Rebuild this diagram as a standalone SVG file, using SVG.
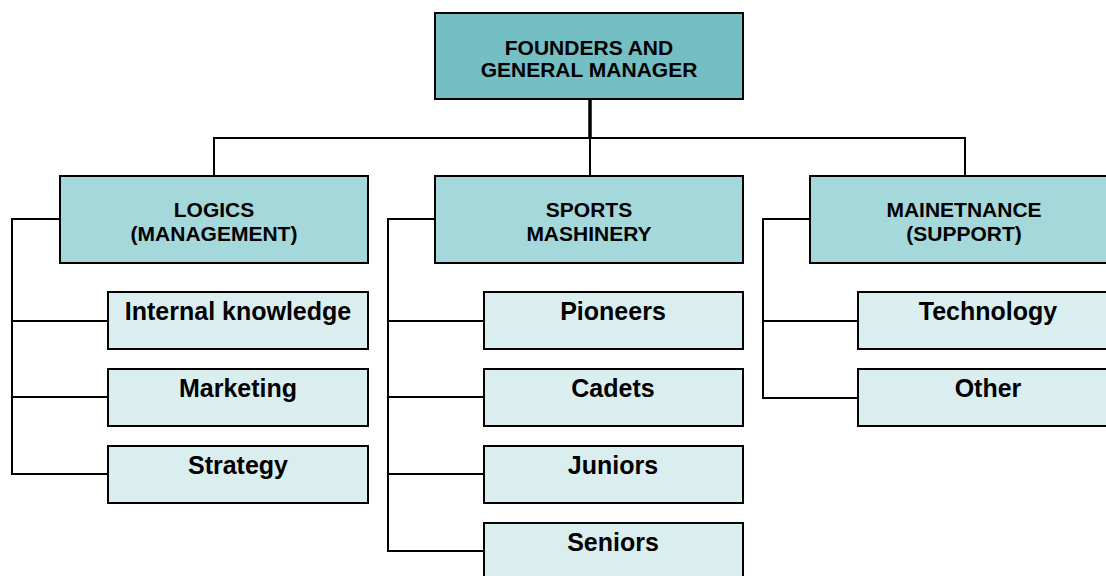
<svg xmlns="http://www.w3.org/2000/svg" width="1106" height="576" viewBox="0 0 1106 576">
<style>
.b1{fill:#73bfc4;stroke:#000;stroke-width:2}
.b2{fill:#a5d8da;stroke:#000;stroke-width:2}
.b3{fill:#daeef0;stroke:#000;stroke-width:2}
.t{font-family:"Liberation Sans",Arial,sans-serif;font-weight:bold;fill:#000;text-anchor:middle}
.s{font-size:21px}
.l{font-size:25px}
.c{fill:none;stroke:#000;stroke-width:2}
</style>
<rect width="1106" height="576" fill="#fff"/>
<g id="connectors">
<path class="c" d="M590 99V138" style="stroke-width:3.5"/>
<path class="c" d="M214 177V138H965V177M590 138V177"/>
<path class="c" d="M60 219H12V474H108M12 321H108M12 397H108"/>
<path class="c" d="M435 219H388V551H484M388 321H484M388 397H484M388 474H484"/>
<path class="c" d="M810 219H763V398H858M763 321H858"/>
</g>
<g id="founders"><rect class="b1" x="435" y="13" width="308" height="86"/><text class="t s" x="589" y="55">FOUNDERS AND</text><text class="t s" x="589" y="77">GENERAL MANAGER</text></g>
<g id="logics"><rect class="b2" x="60" y="176" width="308" height="87"/><text class="t s" x="214" y="217">LOGICS</text><text class="t s" x="214" y="241">(MANAGEMENT)</text></g>
<g id="sports"><rect class="b2" x="435" y="176" width="308" height="87"/><text class="t s" x="589" y="217">SPORTS</text><text class="t s" x="589" y="241">MASHINERY</text></g>
<g id="maintenance"><rect class="b2" x="810" y="176" width="308" height="87"/><text class="t s" x="964" y="217">MAINETNANCE</text><text class="t s" x="964" y="241">(SUPPORT)</text></g>
<g id="internal"><rect class="b3" x="108" y="292" width="260" height="57"/><text class="t l" x="238" y="320">Internal knowledge</text></g>
<g id="marketing"><rect class="b3" x="108" y="369" width="260" height="57"/><text class="t l" x="238" y="397">Marketing</text></g>
<g id="strategy"><rect class="b3" x="108" y="446" width="260" height="57"/><text class="t l" x="238" y="474">Strategy</text></g>
<g id="pioneers"><rect class="b3" x="484" y="292" width="259" height="57"/><text class="t l" x="613" y="320">Pioneers</text></g>
<g id="cadets"><rect class="b3" x="484" y="369" width="259" height="57"/><text class="t l" x="613" y="397">Cadets</text></g>
<g id="juniors"><rect class="b3" x="484" y="446" width="259" height="57"/><text class="t l" x="613" y="474">Juniors</text></g>
<g id="seniors"><rect class="b3" x="484" y="523" width="259" height="57"/><text class="t l" x="613" y="551">Seniors</text></g>
<g id="technology"><rect class="b3" x="858" y="292" width="260" height="57"/><text class="t l" x="988" y="320">Technology</text></g>
<g id="other"><rect class="b3" x="858" y="369" width="260" height="57"/><text class="t l" x="988" y="397">Other</text></g>
</svg>
